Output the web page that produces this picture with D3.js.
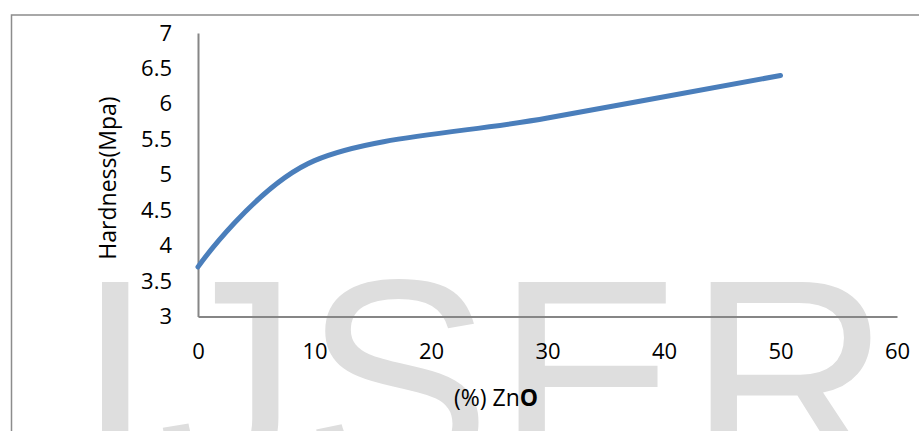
<!DOCTYPE html>
<html>
<head>
<meta charset="utf-8">
<script src="https://cdn.jsdelivr.net/npm/d3@7/dist/d3.min.js"></script>
<style>
  html, body { margin: 0; padding: 0; background: #fff; }
  svg { display: block; }
  .tick text { font-family: "Open Sans", sans-serif; font-size: 22px; fill: #000; }
</style>
</head>
<body>
<svg id="chart" width="919" height="431"></svg>
<script>
// ZnO content (%) and the measured hardness (MPa)
const zno = [0, 10, 30, 50];
const hardness = [3.7, 5.2, 5.8, 6.4];

const xTicks = [0, 10, 20, 30, 40, 50, 60];
const yTicks = [3, 3.5, 4, 4.5, 5, 5.5, 6, 6.5, 7];
const yTickLabels = ["3", "3.5", "4", "4.5", "5", "5.5", "6", "6.5", "7"];

const yTitle = "Hardness(Mpa)";
const xTitlePlain = "(%) Zn";
const xTitleBold = "O";
const watermark = "IJSER";

const svg = d3.select("#chart");
const W = 919, H = 431;

const x = d3.scaleLinear().domain([0, 60]).range([198, 897]);
const y = d3.scaleLinear().domain([3, 7]).range([316.5, 33]);

// faint background watermark
svg.append("text")
  .attr("x", 76)
  .attr("y", 476)
  .attr("font-family", "Liberation Sans, Arial, sans-serif")
  .attr("font-size", 282)
  .attr("letter-spacing", 4)
  .attr("fill", "#dedede")
  .text(watermark);

// chart frame (runs past the right and bottom edges)
svg.append("rect")
  .attr("x", 11.5).attr("y", 15)
  .attr("width", W + 40).attr("height", H + 40)
  .attr("fill", "none")
  .attr("stroke", "#8c8c8c")
  .attr("stroke-width", 1.5);

// axes
const xAxis = d3.axisBottom(x)
  .tickValues(xTicks)
  .tickSize(0)
  .tickSizeOuter(0)
  .tickPadding(27)
  .tickFormat(d3.format("d"));

const yAxis = d3.axisLeft(y)
  .tickValues(yTicks)
  .tickSize(0)
  .tickSizeOuter(0)
  .tickPadding(26)
  .tickFormat((d, i) => yTickLabels[i]);

const gx = svg.append("g")
  .attr("transform", `translate(0,${y(3)})`)
  .call(xAxis);
const gy = svg.append("g")
  .attr("transform", `translate(${x(0)},0)`)
  .call(yAxis);

[gx, gy].forEach(g => {
  g.select(".domain").attr("stroke", "#868686").attr("stroke-width", 2);
  g.selectAll(".tick line").remove();
  g.attr("font-family", null).attr("font-size", null);
});

// series line, smoothed through the measured points
const line = d3.line()
  .x((d, i) => x(zno[i]))
  .y(d => y(d))
  .curve(d3.curveCardinal.tension(0));

svg.append("path")
  .datum(hardness)
  .attr("d", line)
  .attr("fill", "none")
  .attr("stroke", "#4a7ebb")
  .attr("stroke-width", 5)
  .attr("stroke-linecap", "round")
  .attr("stroke-linejoin", "round");

// axis titles
svg.append("text")
  .attr("transform", `translate(116,178) rotate(-90)`)
  .attr("text-anchor", "middle")
  .attr("font-family", "Open Sans, sans-serif")
  .attr("font-size", 23)
  .attr("fill", "#000")
  .text(yTitle);

const xt = svg.append("text")
  .attr("x", 496)
  .attr("y", 406)
  .attr("text-anchor", "middle")
  .attr("font-family", "Open Sans, sans-serif")
  .attr("font-size", 23)
  .attr("fill", "#000");
xt.append("tspan").text(xTitlePlain);
xt.append("tspan").attr("font-weight", "bold").text(xTitleBold);
</script>
</body>
</html>
